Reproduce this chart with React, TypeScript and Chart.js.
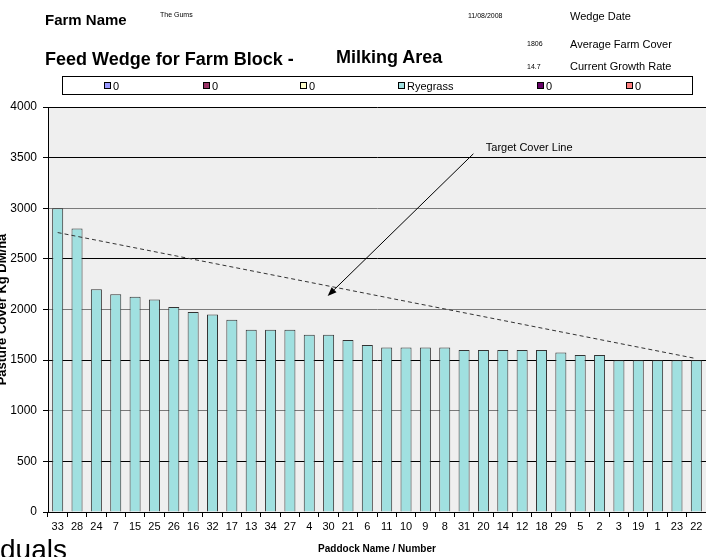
import React, { useEffect, useRef } from "react";
import { Chart, registerables } from "chart.js";

Chart.register(...registerables);

const paddocks = ["33", "28", "24", "7", "15", "25", "26", "16", "32", "17", "13", "34", "27", "4", "30", "21", "6", "11", "10", "9", "8", "31", "20", "14", "12", "18", "29", "5", "2", "3", "19", "1", "23", "22"];
const ryegrass = [3000, 2800, 2200, 2150, 2125, 2100, 2025, 1975, 1950, 1900, 1800, 1800, 1800, 1750, 1750, 1700, 1650, 1625, 1625, 1625, 1625, 1600, 1600, 1600, 1600, 1600, 1575, 1550, 1550, 1500, 1500, 1500, 1500, 1500];
// target cover line: value at the first and the last paddock
const targetStart = 2760;
const targetEnd = 1515;
const yTicks = [0, 500, 1000, 1500, 2000, 2500, 3000, 3500, 4000];

const legendLabels = ["0", "0", "0", "Ryegrass", "0", "0"];
const legendColors = ["#9999ff", "#993366", "#ffffcc", "#a0e0e0", "#660066", "#ff8080"];

// annotation arrow (category index, value)
const arrowFrom = { x: 21.48, y: 3538 };
const arrowTo = { x: 13.95, y: 2133 };
const arrowLabel = { x: 22.12, y: 3597, text: "Target Cover Line" };

const FONT = 'Arial, "Liberation Sans", sans-serif';

const bgPlugin = {
  id: "plotBg",
  beforeDraw(chart: any) {
    const { ctx, chartArea } = chart;
    ctx.save();
    ctx.fillStyle = "#efefef";
    ctx.fillRect(chartArea.left, chartArea.top, chartArea.right - chartArea.left, chartArea.bottom - chartArea.top);
    ctx.restore();
  },
};

const annotPlugin = {
  id: "annot",
  afterDatasetsDraw(chart: any) {
    const { ctx, scales } = chart;
    const x = scales.x, y = scales.y;
    const x1 = x.getPixelForValue(arrowFrom.x), y1 = y.getPixelForValue(arrowFrom.y);
    const x2 = x.getPixelForValue(arrowTo.x), y2 = y.getPixelForValue(arrowTo.y);
    ctx.save();
    ctx.strokeStyle = "#000";
    ctx.fillStyle = "#000";
    ctx.lineWidth = 1;
    const ang = Math.atan2(y2 - y1, x2 - x1);
    const len = 9, wid = 3.5;
    const bx = x2 - len * Math.cos(ang), by = y2 - len * Math.sin(ang);
    ctx.beginPath();
    ctx.moveTo(x1, y1);
    ctx.lineTo(bx, by);
    ctx.stroke();
    ctx.beginPath();
    ctx.moveTo(x2, y2);
    ctx.lineTo(bx + wid * Math.sin(ang), by - wid * Math.cos(ang));
    ctx.lineTo(bx - wid * Math.sin(ang), by + wid * Math.cos(ang));
    ctx.closePath();
    ctx.fill();
    ctx.font = `11px ${FONT}`;
    ctx.textAlign = "left";
    ctx.textBaseline = "middle";
    ctx.fillText(arrowLabel.text, x.getPixelForValue(arrowLabel.x), y.getPixelForValue(arrowLabel.y));
    ctx.restore();
  },
};

const yTitlePlugin = {
  id: "yTitle",
  afterDraw(chart: any) {
    const { ctx, chartArea } = chart;
    ctx.save();
    ctx.translate(6, (chartArea.top + chartArea.bottom) / 2);
    ctx.rotate(-Math.PI / 2);
    ctx.font = `bold 13px ${FONT}`;
    ctx.fillStyle = "#000";
    ctx.textAlign = "center";
    ctx.textBaseline = "alphabetic";
    ctx.fillText("Pasture Cover Kg DM/ha", 0, 0);
    ctx.restore();
  },
};

function ChartCanvas() {
  const ref = useRef<HTMLCanvasElement>(null);
  useEffect(() => {
    if (!ref.current) return;
    const target = paddocks.map((_, i) => (i === 0 ? targetStart : i === paddocks.length - 1 ? targetEnd : null));
    const chart = new Chart(ref.current, {
      type: "bar",
      data: {
        labels: paddocks,
        datasets: [
          {
            type: "line",
            label: "Target Cover",
            data: target,
            borderColor: "#333",
            borderWidth: 1,
            borderDash: [4, 3],
            pointRadius: 0,
            spanGaps: true,
            fill: false,
            order: 0,
          } as any,
          {
            type: "bar",
            label: "Ryegrass",
            data: ryegrass,
            backgroundColor: "#a0e0e0",
            borderColor: "#333",
            borderWidth: 1,
            barPercentage: 0.57,
            categoryPercentage: 1,
            order: 1,
          },
        ],
      },
      options: {
        animation: false,
        responsive: true,
        maintainAspectRatio: false,
        layout: { padding: { top: 107, left: 0, right: 0, bottom: 0 } },
        plugins: { legend: { display: false }, tooltip: { enabled: false } },
        scales: {
          x: {
            afterFit: (s: any) => { s.height = 45; },
            grid: { drawOnChartArea: false, drawTicks: true, tickLength: 5, tickColor: "#000", offset: true },
            border: { color: "#000", width: 1 },
            ticks: { font: { family: FONT, size: 11 }, color: "#000", padding: 3, maxRotation: 0, autoSkip: false },
            title: { display: true, text: "Paddock Name / Number", font: { family: FONT, size: 10, weight: "bold" }, color: "#000", padding: { top: 0, bottom: 2 } },
          },
          y: {
            min: 0,
            max: 4000,
            afterFit: (s: any) => { s.width = 48; },
            afterBuildTicks: (s: any) => { s.ticks = yTicks.map((v) => ({ value: v })); },
            grid: {
              color: (c: any) => (c.tick && c.tick.value % 1000 === 0 && c.tick.value !== 4000 ? "#7a7a7a" : "#000"),
              tickColor: "#000",
              tickLength: 5,
              lineWidth: 1,
            },
            border: { color: "#000", width: 1 },
            ticks: { font: { family: FONT, size: 12 }, color: "#000", padding: 6, callback: (v: any) => String(v) },
          },
        },
      },
      plugins: [bgPlugin, annotPlugin, yTitlePlugin],
    });
    return () => chart.destroy();
  }, []);
  return <canvas ref={ref} />;
}

const T = (props: { x: number; y: number; size: number; bold?: boolean; children: React.ReactNode }) => (
  <div
    style={{
      position: "absolute",
      left: props.x,
      top: props.y - props.size / 2,
      fontSize: props.size,
      lineHeight: `${props.size}px`,
      fontWeight: props.bold ? "bold" : "normal",
      fontFamily: FONT,
      whiteSpace: "nowrap",
      color: "#000",
    }}
  >
    {props.children}
  </div>
);

const legendX = [104, 203, 300, 398, 537, 626];

export default function App() {
  return (
    <div style={{ position: "fixed", left: 0, top: 0, width: 706, height: 557, background: "#fff", overflow: "hidden" }}>
      <div style={{ position: "absolute", left: 0, top: 0, width: 706, height: 557 }}>
        <ChartCanvas />
      </div>
      <T x={45} y={19} size={15} bold>Farm Name</T>
      <T x={160} y={14} size={7}>The Gums</T>
      <T x={468} y={15} size={7}>11/08/2008</T>
      <T x={570} y={16} size={11}>Wedge Date</T>
      <T x={527} y={43} size={7}>1806</T>
      <T x={570} y={44} size={11}>Average Farm Cover</T>
      <T x={45} y={59} size={18} bold>Feed Wedge for Farm Block -</T>
      <T x={336} y={57} size={18} bold>Milking Area</T>
      <T x={527} y={66} size={7}>14.7</T>
      <T x={570} y={66} size={11}>Current Growth Rate</T>
      <div style={{ position: "absolute", left: 62, top: 76, width: 631, height: 19, border: "1px solid #000", boxSizing: "border-box", background: "#fff" }} />
      {legendLabels.map((lab, i) => (
        <div key={i} style={{ position: "absolute", left: legendX[i], top: 79, height: 13, display: "flex", alignItems: "center", fontFamily: FONT, fontSize: 11 }}>
          <div style={{ width: 7, height: 7, border: "1px solid #000", background: legendColors[i], boxSizing: "border-box", marginRight: 2 }} />
          <span>{lab}</span>
        </div>
      ))}
      <div style={{ position: "absolute", left: 0, top: 536, fontSize: 28, lineHeight: "28px", fontFamily: FONT, color: "#000" }}>duals</div>
    </div>
  );
}
